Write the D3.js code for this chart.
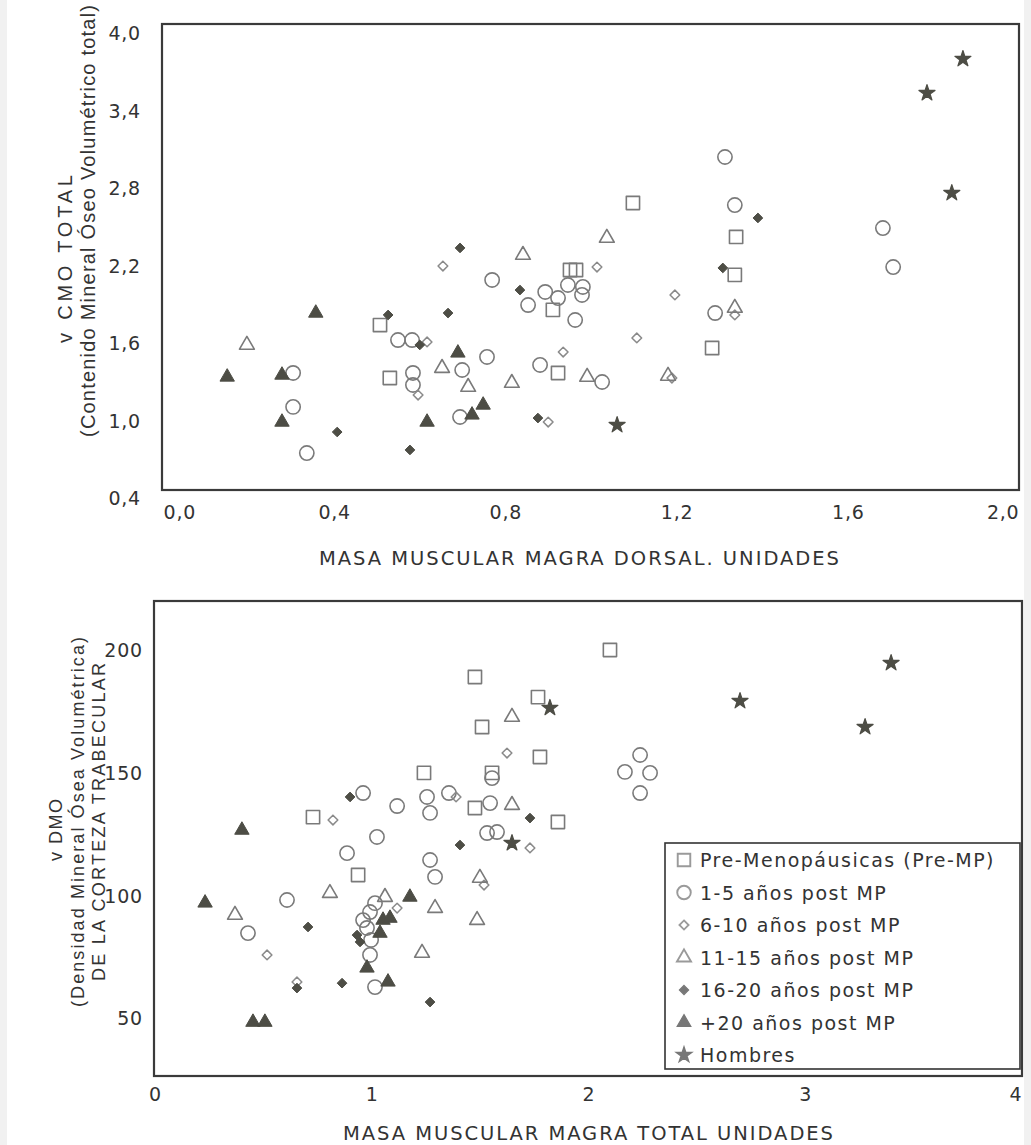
<!DOCTYPE html>
<html><head><meta charset="utf-8">
<script src="https://cdn.jsdelivr.net/npm/d3@7"></script>
<style>
html,body{margin:0;padding:0;background:#f1f1f1;}
svg{display:block;}
</style></head><body>
<svg id="chart" width="1031" height="1145"></svg>
<script>
// ---------- DATA ----------
const groupNames = ["Pre-Menopáusicas (Pre-MP)", "1-5 años post MP", "6-10 años post MP",
  "11-15 años post MP", "16-20 años post MP", "+20 años post MP", "Hombres"];

const xTicksTop = [0, 0.4, 0.8, 1.2, 1.6, 2.0];
const yTicksTop = [0.4, 1.0, 1.6, 2.2, 2.8, 3.4, 4.0];
const xTicksBot = [0, 1, 2, 3, 4];
const yTicksBot = [50, 100, 150, 200];

const xTitleTop = "MASA MUSCULAR MAGRA DORSAL. UNIDADES";
const yTitleTop = ["v CMO TOTAL", "(Contenido Mineral Óseo Volumétrico total)"];
const xTitleBot = "MASA MUSCULAR MAGRA TOTAL UNIDADES";
const yTitleBot = ["v DMO", "(Densidad Mineral Ósea Volumétrica)", "DE LA CORTEZA TRABECULAR"];

// Top chart: [masa muscular dorsal, vCMO total]
const topPreMP = [[1.098,2.684],[1.339,2.421],[0.951,2.165],[0.965,2.165],[0.911,1.856],[1.336,2.127],
  [1.283,1.561],[0.923,1.368],[0.507,1.739],[0.530,1.329]];
const topPost1_5 = [[1.313,3.040],[1.336,2.668],[1.682,2.490],[1.706,2.188],[0.769,2.088],[0.893,1.995],
  [0.853,1.894],[0.923,1.948],[0.946,2.049],[0.981,2.034],[0.979,1.972],[0.963,1.778],[1.290,1.832],
  [1.026,1.298],[0.881,1.430],[0.757,1.492],[0.699,1.391],[0.694,1.027],[0.304,1.368],[0.304,1.105],
  [0.336,0.748],[0.549,1.623],[0.582,1.623],[0.584,1.368],[0.584,1.275]];
const topPost6_10 = [[1.014,2.188],[0.654,2.196],[1.196,1.972],[1.336,1.817],[1.107,1.639],[1.189,1.329],
  [0.935,1.530],[0.900,0.988],[0.617,1.608],[0.596,1.197]];
const topPost11_15 = [[1.037,2.413],[0.841,2.281],[1.336,1.871],[1.180,1.345],[0.991,1.337],[0.815,1.290],
  [0.713,1.259],[0.652,1.406],[0.196,1.585]];
const topPost16_20 = [[1.390,2.568],[0.694,2.336],[0.834,2.010],[1.308,2.181],[0.666,1.832],[0.876,1.019],
  [0.407,0.911],[0.577,0.772],[0.526,1.817],[0.600,1.585]];
const topPost20 = [[0.357,1.832],[0.150,1.337],[0.278,1.352],[0.278,0.988],[0.617,0.988],[0.689,1.523],
  [0.722,1.043],[0.748,1.120]];
const topHombres = [[1.869,3.799],[1.785,3.535],[1.843,2.761],[1.061,0.965]];

// Bottom chart: [masa muscular total, vDMO trabecular]
const botPreMP = [[1.241,149.9],[0.729,131.9],[2.099,200.0],[1.476,189.0],[1.767,180.8],[1.509,168.6],
  [1.776,156.4],[1.555,149.9],[1.476,135.6],[1.859,129.9],[0.937,108.3]];
const botPost1_5 = [[0.960,141.7],[1.117,136.4],[1.255,140.1],[1.269,133.6],[1.356,141.7],[1.555,147.8],
  [1.546,137.6],[2.238,157.2],[2.168,150.3],[2.284,149.9],[2.238,141.7],[1.024,123.8],[0.886,117.2],
  [0.609,98.1],[0.429,84.6],[1.269,114.4],[1.292,107.5],[1.532,125.4],[1.578,125.8],[1.015,62.6],
  [0.992,93.2],[0.960,89.9],[0.978,86.7],[0.997,81.8],[0.992,75.7],[1.015,96.8]];
const botPost6_10 = [[0.821,130.7],[1.624,158.0],[1.389,140.1],[1.730,119.3],[1.518,104.2],[0.517,75.7],
  [0.655,64.7],[1.117,94.8]];
const botPost11_15 = [[1.647,172.7],[1.647,136.8],[1.499,107.1],[1.486,89.9],[0.807,100.9],[0.369,92.0],
  [1.061,99.3],[1.292,94.8],[1.232,76.5]];
const botPost16_20 = [[0.900,140.1],[1.407,120.5],[1.730,131.5],[0.706,87.1],[0.655,62.2],[0.863,64.2],
  [1.269,56.5],[0.932,83.8],[0.946,81.0]];
const botPost20 = [[0.401,126.6],[0.231,96.9],[0.452,48.3],[0.507,48.3],[1.176,99.3],[1.075,64.7],
  [0.978,70.4],[1.052,89.9],[1.038,84.6],[1.084,90.7]];
const botHombres = [[3.396,194.7],[2.699,179.2],[3.276,168.6],[1.822,176.4],[1.647,121.3]];

const topSeries = [topPreMP, topPost1_5, topPost6_10, topPost11_15, topPost16_20, topPost20, topHombres];
const botSeries = [botPreMP, botPost1_5, botPost6_10, botPost11_15, botPost16_20, botPost20, botHombres];

// ---------- STYLE ----------
const dark = "#4d4d45", open = "#7a7a7a";
const markers = [
  {type: d3.symbolSquare,   size: 175, fill: "none", stroke: open,  sw: 1.6},
  {type: d3.symbolCircle,   size: 160, fill: "none", stroke: open,  sw: 1.6},
  {type: d3.symbolDiamond2, size: 60,  fill: "none", stroke: "#8a8a8a", sw: 1.5},
  {type: d3.symbolTriangle, size: 95,  fill: "none", stroke: open,  sw: 1.6},
  {type: d3.symbolDiamond2, size: 60,  fill: dark,   stroke: dark,  sw: 1},
  {type: d3.symbolTriangle, size: 90,  fill: dark,   stroke: dark,  sw: 1},
  {type: d3.symbolStar,     size: 80,  fill: dark,   stroke: dark,  sw: 1.2}
];
const textColor = "#333";
const fontFam = "'DejaVu Sans', Verdana, sans-serif";
const titleFam = "'Liberation Sans', Arial, sans-serif";

const svg = d3.select("#chart");
svg.append("rect").attr("x", 7).attr("y", 0).attr("width", 1017).attr("height", 1145).attr("fill", "#fff");

const commaFmt = d => d3.format(".1f")(d).replace(".", ",");

function drawChart(cfg) {
  const g = svg.append("g");
  const f = cfg.frame;
  g.append("rect").attr("x", f.x0).attr("y", f.y0).attr("width", f.x1 - f.x0).attr("height", f.y1 - f.y0)
    .attr("fill", "#fff").attr("stroke", "#3a3a3a").attr("stroke-width", 2.2);

  // x axis
  const xa = g.append("g").attr("transform", `translate(0,${f.y1})`)
    .call(d3.axisBottom(cfg.x).tickValues(cfg.xTicks).tickFormat(cfg.xFmt).tickSize(0));
  xa.select(".domain").remove();
  xa.attr("font-size", null).attr("font-family", null);
  const nx = cfg.xTicks.length;
  xa.selectAll(".tick text").attr("y", cfg.xLabelOff).attr("dy", "0.36em")
    .attr("fill", textColor).style("font-family", fontFam).style("font-size", "19px").style("letter-spacing", "0.8px")
    .attr("text-anchor", (d, i) => i === 0 && cfg.edgeStart ? "start" : (i === nx - 1 ? "end" : "middle"));

  // y axis
  const ya = g.append("g").attr("transform", `translate(${cfg.yLabelX},0)`)
    .call(d3.axisLeft(cfg.y).tickValues(cfg.yTicks).tickFormat(cfg.yFmt).tickSize(0).tickPadding(0));
  ya.select(".domain").remove();
  ya.attr("font-size", null).attr("font-family", null);
  ya.selectAll(".tick text").attr("x", 0).attr("dy", "0.36em").attr("fill", textColor)
    .style("font-family", fontFam).style("font-size", "19px").style("letter-spacing", "0.8px");

  // points
  const pg = g.append("g");
  cfg.series.forEach((arr, gi) => {
    const m = markers[gi];
    pg.selectAll(null).data(arr).enter().append("path")
      .attr("d", d3.symbol().type(m.type).size(m.size))
      .attr("transform", d => `translate(${cfg.x(d[0])},${cfg.y(d[1])})`)
      .attr("fill", m.fill).attr("stroke", m.stroke).attr("stroke-width", m.sw)
      .attr("stroke-linejoin", "round");
  });

  // x title
  g.append("text").attr("x", cfg.xTitle.x).attr("y", cfg.xTitle.y).attr("text-anchor", "middle")
    .attr("dominant-baseline", "central").attr("fill", textColor)
    .style("font-family", fontFam).style("font-size", "19.5px")
    .attr("textLength", cfg.xTitle.len).attr("lengthAdjust", "spacing")
    .text(cfg.xTitle.text);

  // y title lines
  cfg.yTitle.forEach(t => {
    g.append("text").attr("transform", `translate(${t.x},${t.y}) rotate(-90)`)
      .attr("text-anchor", "middle").attr("dominant-baseline", "central").attr("fill", textColor)
      .style("font-family", titleFam).style("font-size", t.fs + "px")
      .attr("textLength", t.len).attr("lengthAdjust", "spacing")
      .text(t.text);
  });
}

// Top chart
drawChart({
  frame: {x0: 162, x1: 1019, y0: 24, y1: 490},
  x: d3.scaleLinear().domain([0, 2]).range([163, 1019]),
  y: d3.scaleLinear().domain([0.4, 4.0]).range([498, 33]),
  xTicks: xTicksTop, yTicks: yTicksTop, xFmt: commaFmt, yFmt: commaFmt,
  xLabelOff: 22, yLabelX: 141, edgeStart: true,
  series: topSeries,
  xTitle: {text: xTitleTop, x: 579, y: 558, len: 520},
  yTitle: [{text: yTitleTop[0], x: 65, y: 259, len: 168, fs: 20},
           {text: yTitleTop[1], x: 88, y: 221, len: 432, fs: 20}]
});

// Bottom chart
drawChart({
  frame: {x0: 154, x1: 1022, y0: 601, y1: 1076},
  x: d3.scaleLinear().domain([0, 4]).range([155, 1022]),
  y: d3.scaleLinear().domain([50, 200]).range([1018, 650]),
  xTicks: xTicksBot, yTicks: yTicksBot, xFmt: d3.format("d"), yFmt: d3.format("d"),
  xLabelOff: 18, yLabelX: 143, edgeStart: false,
  series: botSeries,
  xTitle: {text: xTitleBot, x: 588, y: 1133, len: 490},
  yTitle: [{text: yTitleBot[0], x: 56, y: 830, len: 62, fs: 18},
           {text: yTitleBot[1], x: 78, y: 822, len: 370, fs: 18},
           {text: yTitleBot[2], x: 99, y: 822, len: 318, fs: 18}]
});

// Legend
const lg = svg.append("g");
lg.append("rect").attr("x", 665).attr("y", 843).attr("width", 355).attr("height", 226)
  .attr("fill", "#fff").attr("stroke", "#333").attr("stroke-width", 1.6);
const legendScale = d3.scalePoint().domain(groupNames).range([860, 1055]);
groupNames.forEach((name, i) => {
  const m = markers[i];
  const yy = legendScale(name);
  lg.append("path").attr("d", d3.symbol().type(m.type).size(m.size * 0.9))
    .attr("transform", `translate(684,${yy})`)
    .attr("fill", m.fill === "none" ? "#fff" : "#777").attr("stroke", m.fill === "none" ? "#9a9a9a" : "#777")
    .attr("stroke-width", m.sw * 1.2);
  lg.append("text").attr("x", 700).attr("y", yy).attr("dominant-baseline", "central").attr("fill", textColor)
    .style("font-family", fontFam).style("font-size", "19px").style("letter-spacing", "1.5px")
    .text(name);
});
</script>
</body></html>
